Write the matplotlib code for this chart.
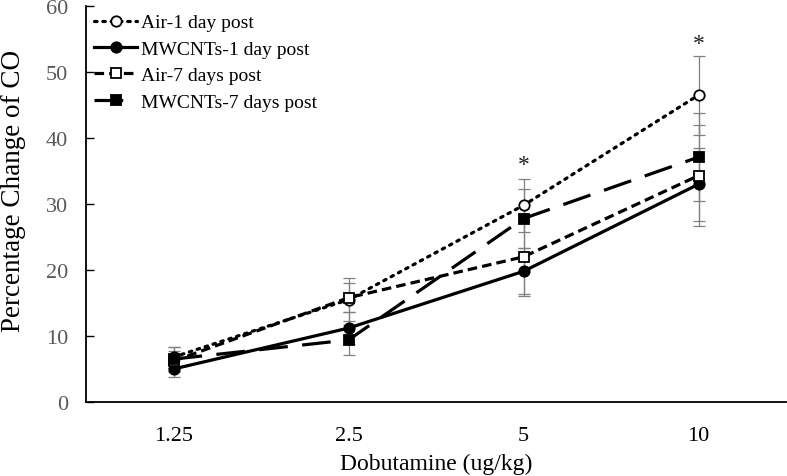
import matplotlib
matplotlib.use("Agg")
import matplotlib.pyplot as plt
import numpy as np

plt.rcParams['font.family'] = ['Liberation Serif', 'DejaVu Serif']

categories = ["1.25", "2.5", "5", "10"]
air1 = [6.8, 15.5, 29.8, 46.5]
air1_err = [1.6, 3.3, 4.0, 6.0]
mw1 = [5.0, 11.2, 19.8, 33.0]
mw1_err = [1.2, 2.4, 3.5, 5.5]
air7 = [6.2, 15.8, 22.0, 34.3]
air7_err = [1.5, 2.2, 6.0, 7.6]
mw7 = [6.5, 9.4, 27.8, 37.1]
mw7_err = [1.9, 2.3, 4.5, 6.7]
labels = ["Air-1 day post", "MWCNTs-1 day post", "Air-7 days post", "MWCNTs-7 days post"]
star_pos = [2, 3]
star_y = [36.0, 54.3]

fig = plt.figure(figsize=(7.87, 4.77), dpi=100)
ax = fig.add_axes([86/787, 1 - 403/477, 700/787, 396/477])
x = np.arange(len(categories))

series = [
    (air1, air1_err, dict(linestyle=(0, (0.8, 1.8)), marker='o', mfc='white', dash_capstyle='round')),
    (mw1, mw1_err, dict(linestyle='-', marker='o', mfc='black')),
    (air7, air7_err, dict(linestyle=(0, (3, 1.6)), marker='s', mfc='white')),
    (mw7, mw7_err, dict(linestyle=(0, (9, 4.5)), marker='s', mfc='black')),
]
for (vals, errs, st), lab in zip(series, labels):
    ax.errorbar(x, vals, yerr=errs, fmt='none', ecolor='#808080', elinewidth=0.9,
                capsize=4, capthick=0.9, zorder=2)
    ax.plot(x, vals, color='black', lw=2.3, ms=7.5, mec='black', mew=1.3,
            label=lab, zorder=3, **st)

for p, yv in zip(star_pos, star_y):
    ax.text(p, yv, "*", ha='center', va='center', fontsize=17, color='#202020')

ax.set_xlim(-0.5, 3.5)
ax.set_ylim(0, 60)
ax.set_yticks(range(0, 61, 10))
ax.set_xticks(x)
ax.set_xticklabels(categories)
ax.tick_params(axis='y', direction='in', length=6, width=1, labelsize=16, labelcolor='#595959', pad=13)
ax.tick_params(axis='x', length=0, labelsize=16, labelcolor='black', pad=17)
for s in ['top', 'right']:
    ax.spines[s].set_visible(False)
for s in ['left', 'bottom']:
    ax.spines[s].set_linewidth(1.3)

ax.set_xlabel("Dobutamine (ug/kg)", fontsize=17, labelpad=6)
ax.set_ylabel("Percentage Change of CO", fontsize=19.5)
ax.yaxis.label.set_va('center')
ax.yaxis.set_label_coords((14 - 86) / 700, (403 - 191) / 396)

leg = ax.legend(loc='upper left', bbox_to_anchor=(-0.006, 1.012), frameon=False, fontsize=14,
                handlelength=2.2, handletextpad=0.2, labelspacing=0.45, borderaxespad=0.25)

fig.savefig("out.png", dpi=100)
